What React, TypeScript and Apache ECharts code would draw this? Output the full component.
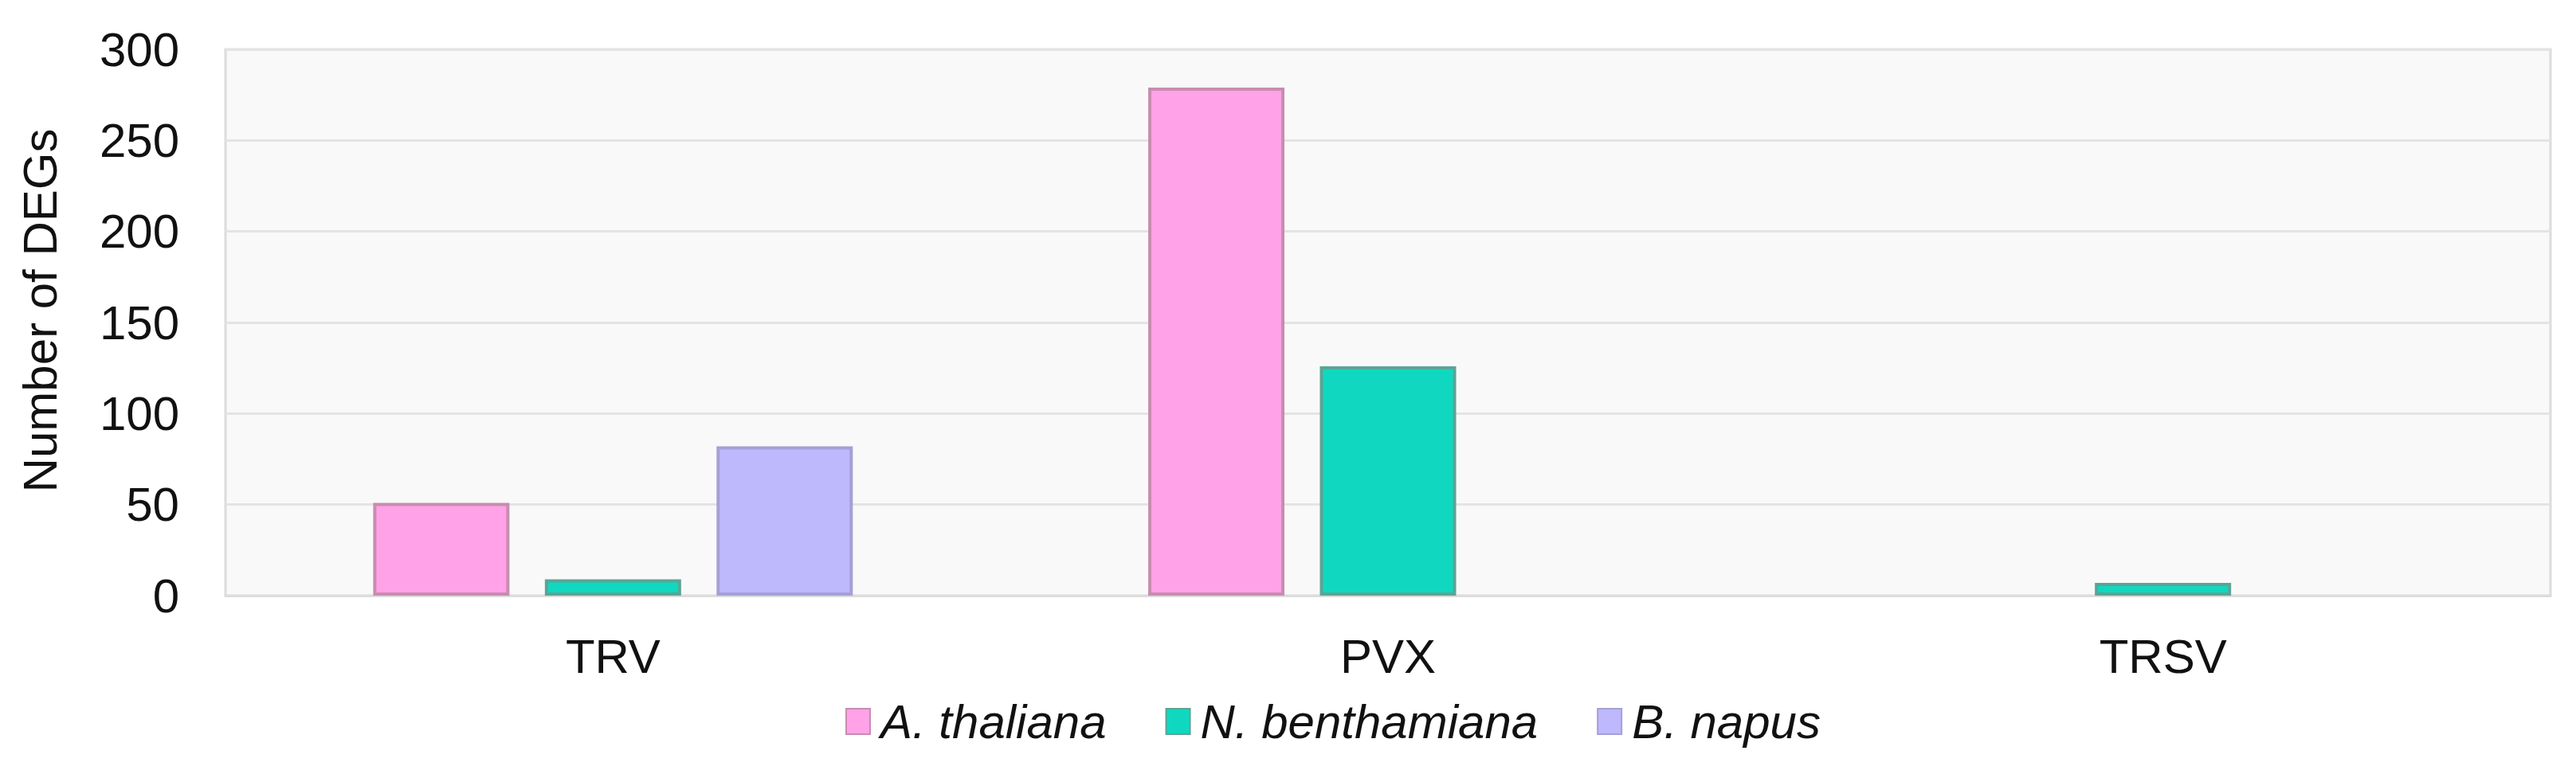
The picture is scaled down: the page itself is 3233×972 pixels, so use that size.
import React, { useEffect, useRef } from "react";
import * as echarts from "echarts";

const categories = ["TRV", "PVX", "TRSV"];
const seriesNames = ["A. thaliana", "N. benthamiana", "B. napus"];
const aThaliana = [51, 279, null];
const nBenthamiana = [9, 126, 7];
const bNapus = [82, null, null];
const yTicks = { min: 0, max: 300, interval: 50 };

const fills = ["#FFA2E8", "#10D8C0", "#BEB8FD"];
const borders = ["#C88CB0", "#5AA596", "#A5A0D7"];
const FONT = "'Liberation Sans', Arial, sans-serif";

export default function App() {
  const ref = useRef<HTMLDivElement>(null);
  useEffect(() => {
    if (!ref.current) return;
    const chart = echarts.init(ref.current, undefined, { renderer: "svg" });
    const data = [aThaliana, nBenthamiana, bNapus];
    chart.setOption({
      animation: false,
      backgroundColor: "#ffffff",
      grid: {
        left: 283,
        right: 32,
        top: 62,
        bottom: 224,
        show: true,
        backgroundColor: "#F9F9F9",
        borderColor: "#DCDCDC",
        borderWidth: 3,
      },
      legend: {
        data: seriesNames,
        icon: "rect",
        left: 1061,
        top: 876,
        padding: 0,
        itemWidth: 30,
        itemHeight: 32,
        itemGap: 74,
        textStyle: {
          fontFamily: FONT,
          fontSize: 60,
          fontStyle: "italic",
          color: "#111",
          padding: [0, 0, 0, 8],
        },
      },
      graphic: [
        {
          type: "text",
          x: 50,
          y: 390,
          rotation: Math.PI / 2,
          style: {
            text: "Number of DEGs",
            font: `60px ${FONT}`,
            fill: "#111",
            align: "center",
            verticalAlign: "middle",
          },
        },
      ],
      xAxis: {
        type: "category",
        data: categories,
        axisTick: { show: false },
        axisLine: { show: true, lineStyle: { color: "#DCDCDC", width: 3 } },
        axisLabel: { fontFamily: FONT, fontSize: 60, color: "#111", margin: 46 },
      },
      yAxis: {
        type: "value",
        min: yTicks.min,
        max: yTicks.max,
        interval: yTicks.interval,
        axisLine: { show: false },
        axisTick: { show: false },
        axisLabel: { fontFamily: FONT, fontSize: 60, color: "#111", margin: 58 },
        splitLine: { lineStyle: { color: "#E4E4E4", width: 3 } },
      },
      series: seriesNames.map((name, i) => ({
        name,
        type: "bar",
        data: data[i],
        barWidth: 171,
        barGap: "26%",
        itemStyle: { color: fills[i], borderColor: borders[i], borderWidth: 4 },
      })),
    });
    return () => chart.dispose();
  }, []);
  return (
    <div
      ref={ref}
      style={{ position: "fixed", left: 0, top: 0, width: 3233, height: 972 }}
    />
  );
}
